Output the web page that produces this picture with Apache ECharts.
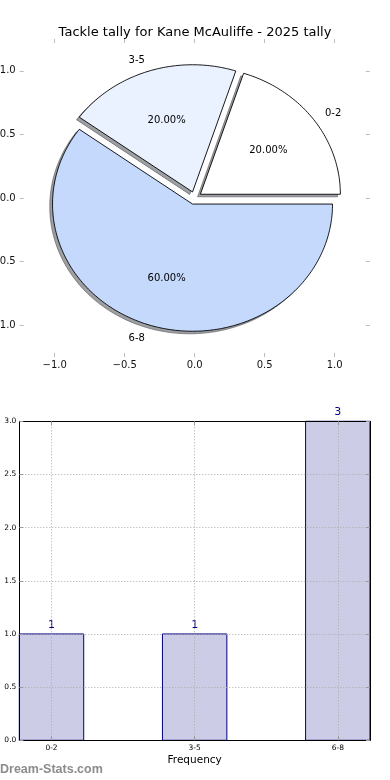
<!DOCTYPE html>
<html><head><meta charset="utf-8">
<script src="https://cdn.jsdelivr.net/npm/echarts@6/dist/echarts.min.js"></script>
<style>html,body{margin:0;padding:0;background:#fff}#c{width:390px;height:780px}</style>
</head><body><div id="c"></div>
<script>
const titleText = 'Tackle tally for Kane McAuliffe - 2025 tally';
const pieLabels = ['0-2', '3-5', '6-8'];
const pieValues = [1, 1, 3];
const pieTicks = [-1, -0.5, 0, 0.5, 1];
const barCategories = ['0-2', '3-5', '6-8'];
const barPositions = [0, 1, 2];
const barValues = [1, 1, 3];
const barYTicks = [0, 0.5, 1, 1.5, 2, 2.5, 3];
const xAxisTitle = 'Frequency';
const watermark = 'Dream-Stats.com';

const pieColors = ['#ffffff', '#eaf1ff', '#c5d9fd'];
const FONT = '"DejaVu Sans", Verdana, sans-serif';
const EXPLODE = 0.05, SHADOW = 0.02, LABEL_DIST = 1.1, PCT_DIST = 0.6;
const BAR_WIDTH = 0.45;
const TEXT_NUDGE = 1.5;

const total = pieValues.reduce((a, b) => a + b, 0);
const starts = []; let acc = 0;
pieValues.forEach(v => { starts.push(acc); acc += v; });

function wedgeGeom(i) {
  const a1 = starts[i] / total * 2 * Math.PI;
  const a2 = (starts[i] + pieValues[i]) / total * 2 * Math.PI;
  const mid = (a1 + a2) / 2;
  return { a1, a2, mid, cx: EXPLODE * Math.cos(mid), cy: EXPLODE * Math.sin(mid) };
}
function wedgePoints(i, api, off) {
  const g = wedgeGeom(i);
  const cx = g.cx + off, cy = g.cy + off;
  const pts = [api.coord([cx, cy])];
  const n = Math.max(8, Math.ceil((g.a2 - g.a1) / (Math.PI / 180)));
  for (let k = 0; k <= n; k++) {
    const t = g.a1 + (g.a2 - g.a1) * k / n;
    pts.push(api.coord([cx + Math.cos(t), cy + Math.sin(t)]));
  }
  return pts;
}
const fmtMinus = v => (v < 0 ? '\u2212' + (-v).toFixed(1) : v.toFixed(1));

const chart = echarts.init(document.getElementById('c'), null, { renderer: 'canvas' });

const pieTickStyle = { show: true, inside: true, length: 4, customValues: pieTicks, lineStyle: { color: '#bdbdbd', width: 1 } };
const barTickStyle = { show: true, inside: true, length: 4, lineStyle: { color: '#999', width: 1 } };
const blackLine = { show: true, onZero: false, lineStyle: { color: '#000', width: 1 } };
const dotted = { show: true, lineStyle: { color: '#aaaaaa', width: 1, type: [1, 2] } };

chart.setOption({
  animation: false,
  backgroundColor: '#fff',
  title: {
    text: titleText, left: 'center', top: 21,
    textStyle: { fontSize: 13, fontWeight: 'normal', color: '#000', fontFamily: FONT }
  },
  grid: [
    { left: 19.7, top: 39, width: 350, height: 318, containLabel: false, outerBoundsMode: 'none' },
    { left: 19.3, top: 421.3, width: 350.7, height: 319, containLabel: false, outerBoundsMode: 'none' }
  ],
  xAxis: [
    { type: 'value', gridIndex: 0, min: -1.25, max: 1.25, position: 'bottom',
      axisLine: { show: false, onZero: false }, axisTick: pieTickStyle, splitLine: { show: false },
      axisLabel: { customValues: pieTicks, formatter: fmtMinus, fontSize: 10, color: '#111', margin: 3, fontFamily: FONT } },
    { type: 'value', gridIndex: 0, min: -1.25, max: 1.25, position: 'top',
      axisLine: { show: false, onZero: false }, axisTick: pieTickStyle, splitLine: { show: false },
      axisLabel: { show: false } },
    { type: 'value', gridIndex: 1, min: -BAR_WIDTH / 2, max: barPositions.length - 1 + BAR_WIDTH / 2, position: 'bottom', z: 5,
      axisLine: blackLine, axisTick: Object.assign({ customValues: barPositions }, barTickStyle),
      splitLine: dotted,
      axisLabel: { customValues: barPositions, formatter: v => barCategories[barPositions.indexOf(v)], fontSize: 7.5, color: '#000', margin: 4, fontFamily: FONT },
      name: xAxisTitle, nameLocation: 'middle', nameGap: 14,
      nameTextStyle: { fontSize: 10.5, color: '#000', fontFamily: FONT } },
    { type: 'value', gridIndex: 1, min: -BAR_WIDTH / 2, max: barPositions.length - 1 + BAR_WIDTH / 2, position: 'top', z: 5,
      axisLine: blackLine, axisTick: Object.assign({ customValues: barPositions }, barTickStyle),
      splitLine: { show: false }, axisLabel: { show: false } }
  ],
  yAxis: [
    { type: 'value', gridIndex: 0, min: -1.25, max: 1.25, position: 'left',
      axisLine: { show: false, onZero: false }, axisTick: pieTickStyle, splitLine: { show: false },
      axisLabel: { customValues: pieTicks, formatter: fmtMinus, fontSize: 10, color: '#111', margin: 4, fontFamily: FONT } },
    { type: 'value', gridIndex: 0, min: -1.25, max: 1.25, position: 'right',
      axisLine: { show: false, onZero: false }, axisTick: pieTickStyle, splitLine: { show: false },
      axisLabel: { show: false } },
    { type: 'value', gridIndex: 1, min: barYTicks[0], max: barYTicks[barYTicks.length - 1], interval: 0.5, position: 'left', z: 5,
      axisLine: blackLine, axisTick: barTickStyle, splitLine: dotted,
      axisLabel: { formatter: v => v.toFixed(1), fontSize: 7.5, color: '#000', margin: 3, fontFamily: FONT } },
    { type: 'value', gridIndex: 1, min: barYTicks[0], max: barYTicks[barYTicks.length - 1], interval: 0.5, position: 'right', z: 5,
      axisLine: blackLine, axisTick: barTickStyle, splitLine: { show: false }, axisLabel: { show: false } }
  ],
  graphic: [
    { type: 'text', left: 0, top: 763, style: { text: watermark, fill: '#8c8c8c', font: 'bold 12.5px "Liberation Sans", Arial, sans-serif' } }
  ],
  series: [
    { type: 'custom', name: 'shadow', xAxisIndex: 0, yAxisIndex: 0, z: 1,
      data: pieValues.map((v, i) => [i, v]),
      renderItem: (params, api) => {
        const i = params.dataIndex;
        return { type: 'polygon', shape: { points: wedgePoints(i, api, -SHADOW) },
          style: { fill: 'rgba(60,63,72,0.5)', stroke: 'rgba(60,63,72,0.5)', lineWidth: 1 } };
      } },
    { type: 'custom', name: 'pie', xAxisIndex: 0, yAxisIndex: 0, z: 2,
      data: pieValues.map((v, i) => [i, v]),
      renderItem: (params, api) => {
        const i = params.dataIndex;
        const g = wedgeGeom(i);
        const lp = api.coord([g.cx + LABEL_DIST * Math.cos(g.mid), g.cy + LABEL_DIST * Math.sin(g.mid)]);
        const pp = api.coord([g.cx + PCT_DIST * Math.cos(g.mid), g.cy + PCT_DIST * Math.sin(g.mid)]);
        const lx = g.cx + LABEL_DIST * Math.cos(g.mid);
        return { type: 'group', children: [
          { type: 'polygon', shape: { points: wedgePoints(i, api, 0) },
            style: { fill: pieColors[i], stroke: '#000', lineWidth: 0.9 } },
          { type: 'text', x: lp[0], y: lp[1] + TEXT_NUDGE, style: { text: pieLabels[i], align: lx > 0 ? 'left' : 'right', verticalAlign: 'middle', fill: '#000', font: '10px ' + FONT } },
          { type: 'text', x: pp[0], y: pp[1] + TEXT_NUDGE, style: { text: (pieValues[i] / total * 100).toFixed(2) + '%', align: 'center', verticalAlign: 'middle', fill: '#000', font: '10px ' + FONT } }
        ] };
      } },
    { type: 'custom', name: 'bars', xAxisIndex: 2, yAxisIndex: 2, z: 2,
      data: barValues.map((v, i) => [barPositions[i], v]),
      renderItem: (params, api) => {
        const x = api.value(0), y = api.value(1);
        const p0 = api.coord([x - BAR_WIDTH / 2, y]);
        const p1 = api.coord([x + BAR_WIDTH / 2, 0]);
        const pt = api.coord([x, y]);
        return { type: 'group', children: [
          { type: 'rect', shape: { x: p0[0], y: p0[1], width: p1[0] - p0[0], height: p1[1] - p0[1] },
            style: { fill: '#ccccE6', stroke: '#000080', lineWidth: 1 } },
          { type: 'text', x: pt[0], y: pt[1] - 9, style: { text: String(y), align: 'center', verticalAlign: 'middle', fill: '#00008b', font: '11px ' + FONT } }
        ] };
      } }
  ]
});
</script></body></html>
